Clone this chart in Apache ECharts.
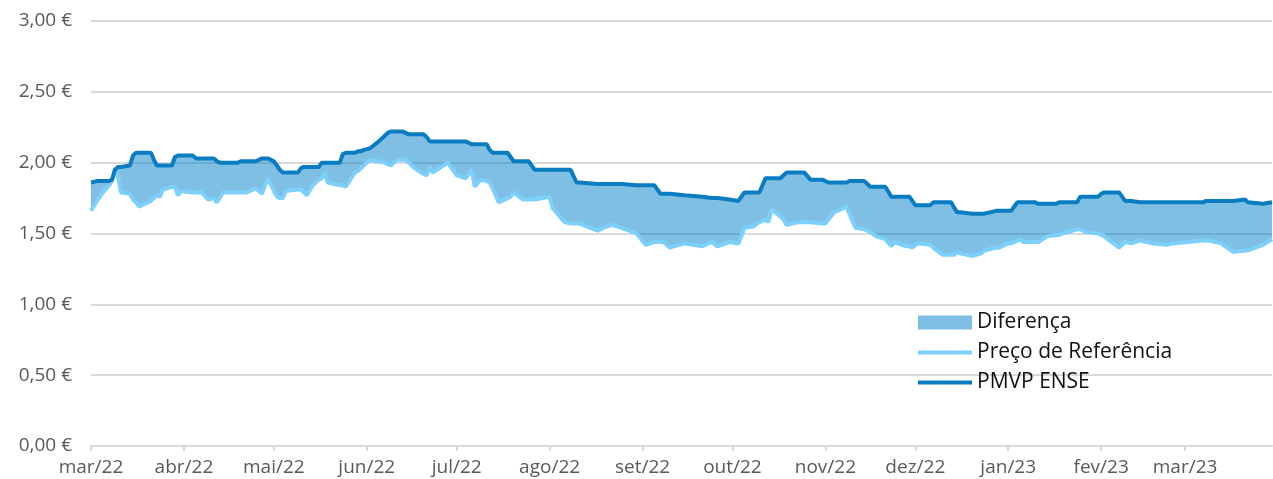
<!DOCTYPE html>
<html>
<head>
<meta charset="utf-8">
<script src="https://cdn.jsdelivr.net/npm/echarts@6/dist/echarts.min.js"></script>
<style>
  html, body { margin: 0; padding: 0; background: #fff; }
  #chart { width: 1273px; height: 479px; }
</style>
</head>
<body>
<div id="chart"></div>
<script>
// dias contados a partir de 1 de março de 2022
const dayOffsets = [
  0, 2, 4, 6, 7, 8, 9, 10, 13, 14, 15, 16, 18, 20, 21, 22, 23, 24, 27, 28,
  29, 30, 34, 35, 37, 39, 41, 42, 43, 44, 49, 50, 52, 55, 57, 59, 61, 62, 63, 64,
  65, 69, 70, 71, 72, 74, 76, 77, 78, 79, 83, 84, 85, 88, 89, 90, 91, 93, 96, 98,
  99, 100, 102, 104, 105, 106, 108, 111, 112, 113, 114, 119, 122, 125, 127, 128, 130, 132, 133, 134,
  136, 139, 140, 141, 144, 146, 148, 153, 154, 156, 158, 160, 162, 163, 169, 170, 172, 174, 177, 182,
  185, 188, 190, 191, 193, 198, 204, 207, 209, 213, 216, 218, 221, 223, 225, 226, 227, 230, 231, 232,
  236, 238, 240, 244, 245, 246, 248, 252, 253, 255, 258, 259, 260, 262, 265, 267, 268, 272, 273, 274,
  275, 276, 280, 281, 284, 287, 288, 289, 290, 294, 297, 298, 302, 303, 306, 307, 309, 310, 311, 315,
  316, 319, 322, 323, 324, 329, 330, 332, 336, 337, 338, 343, 345, 347, 350, 354, 359, 361, 371, 372,
  373, 377, 381, 385, 386, 391, 394
]
const pmvpEnse = [
  1.86, 1.87, 1.87, 1.87, 1.88, 1.95, 1.97, 1.97, 1.98, 2.05, 2.07, 2.07, 2.07, 2.07, 2.02, 1.98, 1.98, 1.98, 1.98, 2.04,
  2.05, 2.05, 2.05, 2.03, 2.03, 2.03, 2.03, 2.01, 2.00, 2.00, 2.00, 2.01, 2.01, 2.01, 2.03, 2.03, 2.01, 1.98, 1.95, 1.93,
  1.93, 1.93, 1.96, 1.97, 1.97, 1.97, 1.97, 2.00, 2.00, 2.00, 2.00, 2.06, 2.07, 2.07, 2.08, 2.08, 2.09, 2.10, 2.15, 2.19,
  2.21, 2.22, 2.22, 2.22, 2.21, 2.20, 2.20, 2.20, 2.18, 2.15, 2.15, 2.15, 2.15, 2.15, 2.13, 2.13, 2.13, 2.13, 2.09, 2.07,
  2.07, 2.07, 2.04, 2.01, 2.01, 2.01, 1.95, 1.95, 1.95, 1.95, 1.95, 1.95, 1.86, 1.86, 1.85, 1.85, 1.85, 1.85, 1.85, 1.84,
  1.84, 1.84, 1.78, 1.78, 1.78, 1.77, 1.76, 1.75, 1.75, 1.74, 1.73, 1.79, 1.79, 1.79, 1.89, 1.89, 1.89, 1.89, 1.91, 1.93,
  1.93, 1.93, 1.88, 1.88, 1.87, 1.86, 1.86, 1.86, 1.87, 1.87, 1.87, 1.85, 1.83, 1.83, 1.83, 1.76, 1.76, 1.76, 1.76, 1.73,
  1.70, 1.70, 1.70, 1.72, 1.72, 1.72, 1.68, 1.65, 1.65, 1.64, 1.64, 1.64, 1.66, 1.66, 1.66, 1.66, 1.72, 1.72, 1.72, 1.72,
  1.71, 1.71, 1.71, 1.72, 1.72, 1.72, 1.76, 1.76, 1.76, 1.78, 1.79, 1.79, 1.73, 1.73, 1.72, 1.72, 1.72, 1.72, 1.72, 1.73,
  1.73, 1.73, 1.73, 1.74, 1.72, 1.71, 1.72
]
const precoReferencia = [
  1.66, 1.73, 1.79, 1.84, 1.87, 1.96, 1.90, 1.79, 1.78, 1.74, 1.72, 1.69, 1.71, 1.73, 1.75, 1.77, 1.76, 1.81, 1.83, 1.83,
  1.77, 1.80, 1.79, 1.79, 1.79, 1.74, 1.75, 1.72, 1.75, 1.79, 1.79, 1.79, 1.79, 1.82, 1.78, 1.89, 1.80, 1.76, 1.75, 1.75,
  1.80, 1.81, 1.81, 1.79, 1.77, 1.84, 1.88, 1.89, 1.93, 1.86, 1.84, 1.84, 1.83, 1.93, 1.94, 1.96, 1.98, 2.02, 2.01, 2.00,
  1.99, 1.98, 2.02, 2.02, 2.02, 2.00, 1.96, 1.92, 1.91, 1.97, 1.93, 2.00, 1.91, 1.89, 1.95, 1.83, 1.88, 1.87, 1.86, 1.82,
  1.72, 1.75, 1.76, 1.79, 1.74, 1.74, 1.74, 1.76, 1.68, 1.63, 1.58, 1.57, 1.57, 1.57, 1.52, 1.53, 1.55, 1.56, 1.54, 1.50,
  1.42, 1.44, 1.44, 1.44, 1.40, 1.43, 1.41, 1.44, 1.41, 1.44, 1.43, 1.54, 1.55, 1.58, 1.60, 1.58, 1.67, 1.62, 1.60, 1.56,
  1.58, 1.58, 1.58, 1.57, 1.57, 1.60, 1.65, 1.69, 1.64, 1.54, 1.53, 1.52, 1.51, 1.48, 1.46, 1.41, 1.44, 1.41, 1.41, 1.40,
  1.42, 1.43, 1.42, 1.40, 1.35, 1.35, 1.35, 1.37, 1.36, 1.34, 1.36, 1.38, 1.40, 1.40, 1.43, 1.43, 1.45, 1.46, 1.44, 1.44,
  1.44, 1.48, 1.49, 1.49, 1.50, 1.53, 1.53, 1.51, 1.50, 1.49, 1.48, 1.40, 1.44, 1.43, 1.45, 1.43, 1.42, 1.43, 1.45, 1.45,
  1.45, 1.43, 1.37, 1.38, 1.38, 1.42, 1.46
]
// início de cada mês, em dias desde 1 de março de 2022
const monthStarts = [0, 31, 61, 92, 122, 153, 184, 214, 245, 275, 306, 337, 365]
const monthLabels = ['mar/22', 'abr/22', 'mai/22', 'jun/22', 'jul/22', 'ago/22', 'set/22',
  'out/22', 'nov/22', 'dez/22', 'jan/23', 'fev/23', 'mar/23']
const yTicks = [0, 0.5, 1, 1.5, 2, 2.5, 3]

const refData = dayOffsets.map((d, i) => [d, precoReferencia[i]])
const pmvpData = dayOffsets.map((d, i) => [d, pmvpEnse[i]])
const bandData = dayOffsets.map((d, i) => [d, pmvpEnse[i], precoReferencia[i]])

const fillColor = 'rgba(0, 127, 199, 0.5)'
const lightBlue = '#7dd0fb'
const darkBlue = '#0a7cc1'
const labelFont = '"Open Sans", Lato, sans-serif'

// faixa entre as duas linhas (Diferença)
function renderBand(params, api) {
  if (params.dataIndex !== 0) return
  const top = bandData.map((p) => api.coord([p[0], p[1]]))
  const bottom = bandData.map((p) => api.coord([p[0], p[2]])).reverse()
  return {
    type: 'polygon',
    shape: { points: top.concat(bottom) },
    style: { fill: fillColor },
  }
}

const myChart = echarts.init(document.getElementById('chart'))
myChart.setOption({
  animation: false,
  grid: {
    left: 91,
    right: 1,
    top: 21,
    bottom: 33,
  },
  legend: {
    orient: 'vertical',
    left: 911,
    top: 307,
    itemWidth: 54,
    itemHeight: 14,
    itemGap: 9,
    textStyle: {
      fontSize: 21,
      color: '#111',
      fontFamily: labelFont,
    },
    data: [
      { name: 'Diferença', icon: 'rect', itemStyle: { color: fillColor } },
      { name: 'Preço de Referência', itemStyle: { opacity: 0 }, lineStyle: { width: 4 } },
      { name: 'PMVP ENSE', itemStyle: { opacity: 0 }, lineStyle: { width: 4 } },
    ],
  },
  xAxis: {
    type: 'value',
    min: 0,
    max: dayOffsets[dayOffsets.length - 1],
    axisLine: {
      show: true,
      lineStyle: { color: '#d9d9d9', width: 2 },
    },
    axisTick: {
      show: true,
      length: 5,
      customValues: monthStarts,
      lineStyle: { color: '#d9d9d9', width: 2 },
    },
    axisLabel: {
      customValues: monthStarts,
      margin: 12,
      fontSize: 19,
      color: '#595959',
      fontFamily: labelFont,
      hideOverlap: false,
      formatter: function (value) {
        const i = monthStarts.indexOf(value)
        return i >= 0 ? monthLabels[i] : ''
      },
    },
    splitLine: { show: false },
  },
  yAxis: {
    type: 'value',
    min: yTicks[0],
    max: yTicks[yTicks.length - 1],
    interval: 0.5,
    axisLine: { show: false },
    axisTick: { show: false },
    axisLabel: {
      margin: 19,
      fontSize: 19,
      color: '#595959',
      fontFamily: labelFont,
      formatter: function (v) {
        return v.toFixed(2).replace('.', ',') + ' €'
      },
    },
    splitLine: {
      show: true,
      lineStyle: { color: '#d9d9d9', width: 2 },
    },
  },
  series: [
    {
      name: 'Diferença',
      type: 'custom',
      data: bandData,
      renderItem: renderBand,
      color: fillColor,
      clip: true,
      z: 1,
    },
    {
      name: 'Preço de Referência',
      type: 'line',
      data: refData,
      symbol: 'none',
      color: lightBlue,
      lineStyle: { color: lightBlue, width: 4 },
      z: 3,
    },
    {
      name: 'PMVP ENSE',
      type: 'line',
      data: pmvpData,
      symbol: 'none',
      color: darkBlue,
      lineStyle: { color: darkBlue, width: 4 },
      z: 4,
    },
  ],
})
</script>
</body>
</html>
